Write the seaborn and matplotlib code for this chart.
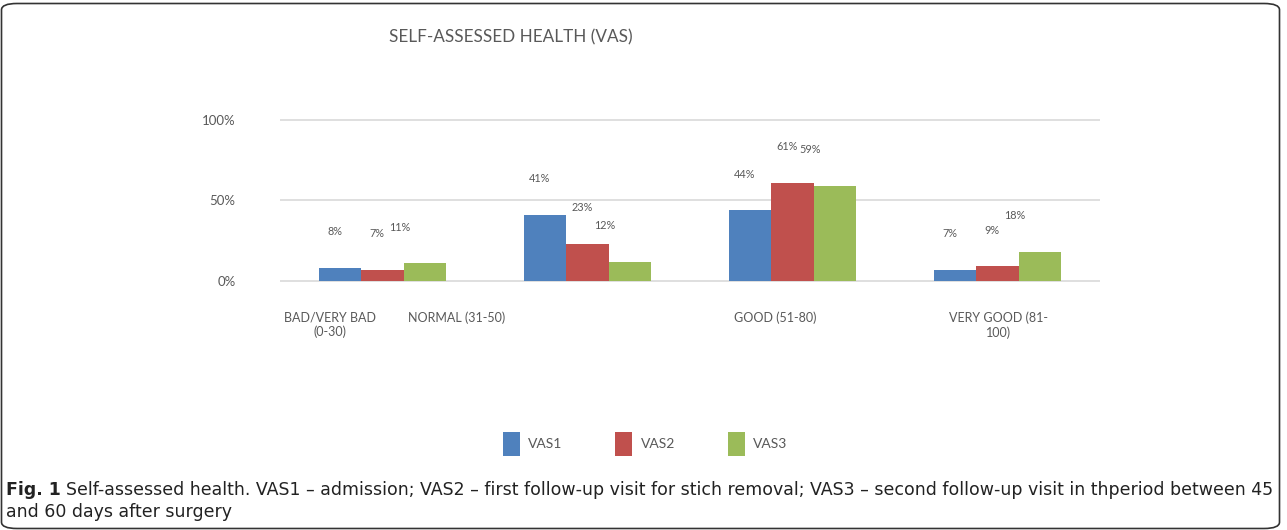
import pandas as pd
import matplotlib.pyplot as plt
import seaborn as sns
from matplotlib.patches import FancyBboxPatch

sns.set_theme(style="white")
plt.rcParams["font.family"] = ["Lato", "DejaVu Sans"]

# data
categories = ["BAD/VERY BAD (0-30)", "NORMAL (31-50)", "GOOD (51-80)", "VERY GOOD (81-100)"]
tick_labels = ["BAD/VERY BAD\n(0-30)", "NORMAL (31-50)", "GOOD (51-80)", "VERY GOOD (81-\n100)"]
visits = ["VAS1", "VAS2", "VAS3"]
vas1 = [8, 41, 44, 7]
vas2 = [7, 23, 61, 9]
vas3 = [11, 12, 59, 18]

colors = ["#4f81bd", "#c0504d", "#9bbb59"]
TEXT = "#595959"

df = pd.DataFrame({
    "category": categories * 3,
    "value": vas1 + vas2 + vas3,
    "visit": [v for v in visits for _ in categories],
})

fig = plt.figure(figsize=(12.87, 5.30), dpi=100)
ax = fig.add_axes([0.2176, 0.4623, 0.6371, 0.3208])

sns.barplot(data=df, x="category", y="value", hue="visit", palette=colors,
            width=0.62, saturation=1, linewidth=0, ax=ax)

ax.set_xlim(-0.5, 3.5)
ax.set_ylim(-2.48, 103.1)
ax.set_yticks([0, 50, 100], ["0%", "50%", "100%"])
for y in [0, 50, 100]:
    ax.axhline(y, color="#d9d9d9", lw=1.2, zorder=0)

# category labels sit off-centre in the original
label_shift = [-0.256, 0.359 - 1, 1.915 - 2, 3.007 - 3]
ax.set_xticks([i + s for i, s in enumerate(label_shift)], tick_labels)
ax.tick_params(axis="x", length=0, pad=19, labelsize=9, labelcolor=TEXT)
ax.tick_params(axis="y", length=0, pad=32, labelsize=9.5, labelcolor=TEXT)
ax.set_xlabel("")
ax.set_ylabel("")
sns.despine(ax=ax, left=True, bottom=True)

# data labels
label_dx = [-4, -4, -18]
for cont, dx in zip(ax.containers, label_dx):
    for bar in cont:
        h = bar.get_height()
        ax.annotate(f"{h:.0f}%", xy=(bar.get_x() + bar.get_width() / 2, h),
                    xytext=(dx, 26), textcoords="offset points",
                    ha="center", va="center", fontsize=7.8, color=TEXT)

handles, labels = ax.get_legend_handles_labels()
ax.get_legend().remove()
fig.legend(handles, labels, loc="center", bbox_to_anchor=(645 / 1287, 1 - 444 / 530),
           ncol=3, frameon=False, fontsize=10, labelcolor=TEXT,
           handlelength=1.22, handleheight=2.2, handletextpad=0.6,
           columnspacing=3.8)

fig.text(511 / 1287, 1 - 37 / 530, "SELF-ASSESSED HEALTH (VAS)", ha="center",
         va="center", fontsize=12.3, color=TEXT)

# caption
cap_font = ["DejaVu Sans"]
fig.canvas.draw()
bold = fig.text(6 / 1287, 1 - 490 / 530, "Fig. 1", fontsize=12.5, fontweight="bold",
                va="center", family=cap_font, color="#222222")
renderer = fig.canvas.get_renderer()
bb = bold.get_window_extent(renderer)
fig.text((bb.x1 + 5) / 1287, 1 - 490 / 530,
         "Self-assessed health. VAS1 \u2013 admission; VAS2 \u2013 first follow-up visit for stich "
         "removal; VAS3 \u2013 second follow-up visit in thperiod between 45",
         fontsize=12.5, va="center", family=cap_font, color="#222222")
fig.text(6 / 1287, 1 - 512 / 530, "and 60 days after surgery",
         fontsize=12.5, va="center", family=cap_font, color="#222222")

border = FancyBboxPatch((1.5 / 1287, 1.5 / 530), 1278 / 1287, 525 / 530,
                        boxstyle="round,pad=0,rounding_size=0.012",
                        transform=fig.transFigure, fill=False,
                        edgecolor="#333333", lw=1.2)
fig.patches.append(border)

fig.savefig("out.png", dpi=100)
